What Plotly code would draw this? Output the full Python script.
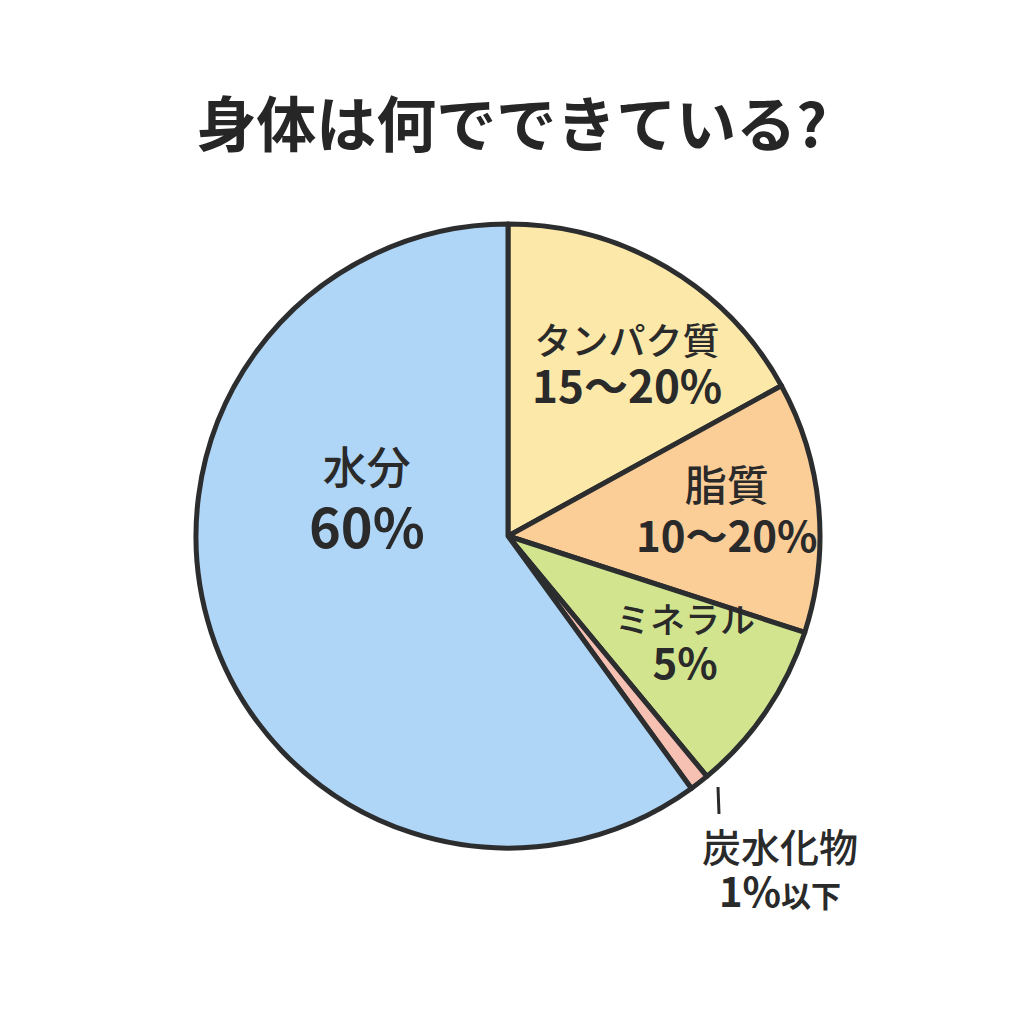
import plotly.graph_objects as go

# --- data ---
labels = ["タンパク質", "脂質", "ミネラル", "炭水化物", "水分"]
values = [17, 13, 9, 1, 60]
value_texts = ["15〜20%", "10〜20%", "5%", "1%", "60%"]
colors = ["#FCE8A9", "#FBCE98", "#D2E48E", "#F6C0B3", "#AFD6F6"]

W = H = 1024
cx, cy, R = 500, 528, 312

def px(x):
    return x / W

def py(y):
    return 1 - y / H

fig = go.Figure()
fig.add_trace(go.Pie(
    labels=labels,
    values=values,
    sort=False,
    direction="clockwise",
    rotation=0,
    textinfo="none",
    hoverinfo="label+percent",
    marker=dict(colors=colors, line=dict(color="#2C2D2F", width=5)),
    domain=dict(x=[px(cx - R), px(cx + R)], y=[py(cy + R), py(cy - R)]),
    showlegend=False,
))

FONT = "Noto Sans CJK JP"
TXT = "#2A2A2A"

# label block: (centre x, name centre y, value centre y, name size, value size)
pos = {
    "タンパク質": (619, 340, 388, 37, 44),
    "脂質": (719, 482, 533, 42, 42),
    "ミネラル": (677, 618, 664, 35, 42),
    "水分": (359, 466, 530, 44, 54),
    "炭水化物": (772, 845, 890, 39, 40),
}

ann = []
for name, vt in zip(labels, value_texts):
    x, y1, y2, s1, s2 = pos[name]
    gap = y2 - y1
    base = gap / 1.3
    value_html = "<b>" + vt + "</b>"
    if name == labels[3]:
        value_html += "<span style='font-size:30px'>以下</span>"
    text = (f"<span style='font-size:{s1}px'>{name}</span><br>"
            f"<span style='font-size:{s2}px;font-weight:600'>{value_html}</span>")
    ann.append(dict(x=px(x), y=py((y1 + y2) / 2 - 8), xref="paper", yref="paper",
                    xanchor="center", yanchor="middle", align="center",
                    text=text, showarrow=False,
                    font=dict(family=FONT, size=base, color=TXT, weight=500)))

fig.add_shape(type="line", xref="paper", yref="paper",
              x0=px(710), x1=px(711), y0=py(779), y1=py(806),
              line=dict(color=TXT, width=3))

fig.update_layout(
    width=W, height=H,
    margin=dict(l=0, r=0, t=0, b=0),
    paper_bgcolor="white",
    plot_bgcolor="white",
    title=dict(text="身体は何でできている?", x=0.492, xanchor="center",
               y=py(118), yanchor="middle",
               font=dict(family=FONT, size=60, color="#262626", weight=700)),
    annotations=ann,
)

fig.write_html("out.html")
